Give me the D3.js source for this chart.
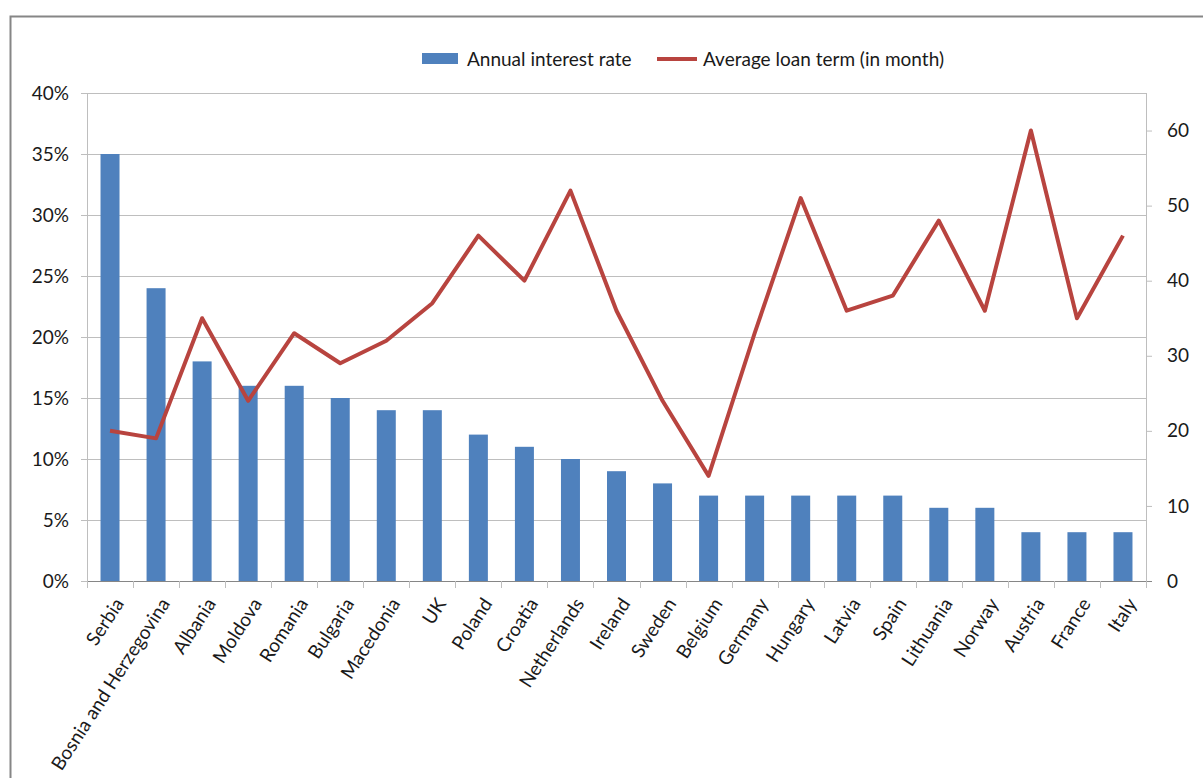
<!DOCTYPE html>
<html>
<head>
<meta charset="utf-8">
<script src="https://cdn.jsdelivr.net/npm/d3@7"></script>
<style>
  body { margin: 0; background: #fff; }
  text { font-family: Lato, "Open Sans", sans-serif; fill: #1a1a1a; }
</style>
</head>
<body>
<div id="chart"></div>
<script>
// data
var countries = ["Serbia", "Bosnia and Herzegovina", "Albania", "Moldova", "Romania", "Bulgaria",
  "Macedonia", "UK", "Poland", "Croatia", "Netherlands", "Ireland", "Sweden", "Belgium",
  "Germany", "Hungary", "Latvia", "Spain", "Lithuania", "Norway", "Austria", "France", "Italy"];
var interestRate = [35, 24, 18, 16, 16, 15, 14, 14, 12, 11, 10, 9, 8, 7, 7, 7, 7, 7, 6, 6, 4, 4, 4];
var loanTerm = [20, 19, 35, 24, 33, 29, 32, 37, 46, 40, 52, 36, 24, 14, 33, 51, 36, 38, 48, 36, 60, 35, 46];
var leftTicks = [0, 5, 10, 15, 20, 25, 30, 35, 40];
var rightTicks = [0, 10, 20, 30, 40, 50, 60];

var W = 1203, H = 778;
var margin = {top: 93, right: 57, bottom: 197, left: 87},
    width = W - margin.left - margin.right,
    height = H - margin.top - margin.bottom;

var fontSize = 19;

var svg = d3.select("#chart").append("svg")
    .attr("width", W)
    .attr("height", H);

// outer chart border
svg.append("rect")
    .attr("x", 10.5).attr("y", 16.5)
    .attr("width", W + 20).attr("height", H + 20)
    .attr("fill", "none")
    .attr("stroke", "#868686")
    .attr("stroke-width", 2);

var xb = d3.scaleBand().domain(countries).range([0, width]),
    y = d3.scaleLinear().domain([0, 40]).range([height, 0]),
    y2 = d3.scaleLinear().domain([0, 65]).range([height, 0]);

var g = svg.append("g")
    .attr("transform", "translate(" + margin.left + "," + margin.top + ")");

// gridlines
g.append("g").selectAll("line")
  .data(leftTicks)
  .enter().append("line")
    .attr("x1", 0).attr("x2", width)
    .attr("y1", function(d) { return Math.round(y(d)) + 0.5; })
    .attr("y2", function(d) { return Math.round(y(d)) + 0.5; })
    .attr("stroke", "#bebebe")
    .attr("stroke-width", 1);

// bars
g.append("g").selectAll("rect")
  .data(interestRate)
  .enter().append("rect")
    .attr("x", function(d, i) { return xb(countries[i]) + xb.bandwidth() / 2 - 9.5; })
    .attr("width", 19)
    .attr("y", function(d) { return y(d); })
    .attr("height", function(d) { return height - y(d); })
    .attr("fill", "#4f81bd");

// line
var line = d3.line()
    .x(function(d, i) { return xb(countries[i]) + xb.bandwidth() / 2; })
    .y(function(d) { return y2(d); });

g.append("path")
    .datum(loanTerm)
    .attr("d", line)
    .attr("fill", "none")
    .attr("stroke", "#b8443f")
    .attr("stroke-width", 4)
    .attr("stroke-linejoin", "round");

// left axis
var yAxis = d3.axisLeft(y)
    .tickValues(leftTicks)
    .tickSize(6)
    .tickPadding(12)
    .tickFormat(function(d) { return d + "%"; });

var ya = g.append("g").call(yAxis);
ya.select(".domain").attr("stroke", "#bebebe").attr("d", "M0.5," + height + "V0");
ya.selectAll(".tick line").attr("stroke", "#bebebe");
ya.selectAll("text").attr("font-size", fontSize).attr("font-family", "Lato, sans-serif").attr("fill", "#1a1a1a");

// right axis
var y2Axis = d3.axisRight(y2)
    .tickValues(rightTicks)
    .tickSize(6)
    .tickPadding(15);

var ya2 = g.append("g").attr("transform", "translate(" + width + ",0)").call(y2Axis);
ya2.select(".domain").attr("stroke", "#bebebe").attr("d", "M0.5," + height + "V0");
ya2.selectAll(".tick line").attr("stroke", "#bebebe");
ya2.selectAll("text").attr("font-size", fontSize).attr("font-family", "Lato, sans-serif").attr("fill", "#1a1a1a");

// bottom axis
var xa = g.append("g").attr("transform", "translate(0," + height + ")");
xa.append("line")
    .attr("x1", 0).attr("x2", width + 6)
    .attr("y1", 0.5).attr("y2", 0.5)
    .attr("stroke", "#868686");
xa.selectAll(".xt")
  .data(countries.concat(["__end"]))
  .enter().append("line")
    .attr("x1", function(d, i) { return Math.round(i * xb.step()) + 0.5; })
    .attr("x2", function(d, i) { return Math.round(i * xb.step()) + 0.5; })
    .attr("y1", 0).attr("y2", 7)
    .attr("stroke", "#bebebe");

xa.selectAll(".xl")
  .data(countries)
  .enter().append("text")
    .attr("transform", function(d) {
      return "translate(" + (xb(d) + xb.bandwidth() / 2 + 9) + ",19) rotate(-57)";
    })
    .attr("text-anchor", "end")
    .attr("dy", "0.35em")
    .attr("font-size", fontSize)
    .text(function(d) { return d; });

// legend
var legend = svg.append("g");
legend.append("rect")
    .attr("x", 422).attr("y", 53)
    .attr("width", 36).attr("height", 11)
    .attr("fill", "#4f81bd");
legend.append("text")
    .attr("x", 467).attr("y", 59)
    .attr("dy", "0.35em")
    .attr("font-size", fontSize)
    .text("Annual interest rate");
legend.append("line")
    .attr("x1", 657).attr("x2", 697)
    .attr("y1", 59).attr("y2", 59)
    .attr("stroke", "#b8443f")
    .attr("stroke-width", 4);
legend.append("text")
    .attr("x", 703).attr("y", 59)
    .attr("dy", "0.35em")
    .attr("font-size", fontSize)
    .text("Average loan term (in month)");
</script>
</body>
</html>
